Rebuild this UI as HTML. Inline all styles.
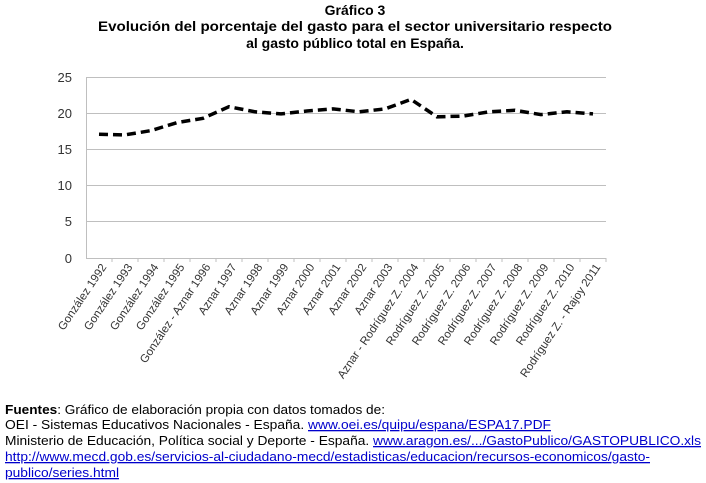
<!DOCTYPE html>
<html><head><meta charset="utf-8"><style>
body{margin:0;background:#fff;width:706px;height:483px;overflow:hidden}
svg{display:block}
</style></head><body>
<svg id="s" width="706" height="483" xmlns="http://www.w3.org/2000/svg" font-family="Liberation Sans, sans-serif">
<g font-weight="bold" font-size="14" text-anchor="middle" fill="#000">
<text x="355" y="15">Gráfico 3</text>
<text x="355" y="31" textLength="514" lengthAdjust="spacingAndGlyphs">Evolución del porcentaje del gasto para el sector universitario respecto</text>
<text x="355" y="48">al gasto público total en España.</text>
</g>
<g stroke="#bfbfbf" stroke-width="1">
<line x1="86" y1="77.5" x2="606" y2="77.5"/>
<line x1="86" y1="113.5" x2="606" y2="113.5"/>
<line x1="86" y1="149.5" x2="606" y2="149.5"/>
<line x1="86" y1="185.5" x2="606" y2="185.5"/>
<line x1="86" y1="221.5" x2="606" y2="221.5"/>
<line x1="86" y1="258.5" x2="606" y2="258.5"/>
<line x1="86.5" y1="77" x2="86.5" y2="258"/>
</g>
<g id="ticks" stroke="#bfbfbf"></g>
<g font-size="13" fill="#333" text-anchor="end">
<text x="72" y="82">25</text><text x="72" y="118">20</text><text x="72" y="154">15</text>
<text x="72" y="190">10</text><text x="72" y="226">5</text><text x="72" y="263">0</text>
</g>
<g id="lab" font-size="11.5" fill="#333" text-anchor="end"></g>
<polyline id="ln" fill="none" stroke="#000" stroke-width="3.5" stroke-dasharray="9,5"/>
<g font-size="13" fill="#000">
<text x="5" y="414" textLength="380" lengthAdjust="spacingAndGlyphs"><tspan font-weight="bold">Fuentes</tspan>: Gráfico de elaboración propia con datos tomados de:</text>
<text x="5" y="429" textLength="546" lengthAdjust="spacingAndGlyphs">OEI - Sistemas Educativos Nacionales - España. <tspan fill="#00c" text-decoration="underline">www.oei.es/quipu/espana/ESPA17.PDF</tspan></text>
<text x="5" y="445" textLength="696" lengthAdjust="spacingAndGlyphs">Ministerio de Educación, Política social y Deporte - España. <tspan fill="#00c" text-decoration="underline">www.aragon.es/.../GastoPublico/GASTOPUBLICO.xls</tspan></text>
<text x="5" y="461" textLength="645" lengthAdjust="spacingAndGlyphs" fill="#00c" text-decoration="underline">http://www.mecd.gob.es/servicios-al-ciudadano-mecd/estadisticas/educacion/recursos-economicos/gasto-</text>
<text x="5" y="477" textLength="114" lengthAdjust="spacingAndGlyphs" fill="#00c" text-decoration="underline">publico/series.html</text>
</g>
<script>
var NS="http://www.w3.org/2000/svg";
var v=[17.1,17.0,17.6,18.7,19.3,20.9,20.2,19.9,20.3,20.6,20.2,20.6,21.9,19.5,19.6,20.2,20.4,19.8,20.2,19.9];
var L=["González 1992","González 1993","González 1994","González 1995","González - Aznar 1996","Aznar 1997","Aznar 1998","Aznar 1999","Aznar 2000","Aznar 2001","Aznar 2002","Aznar 2003","Aznar - Rodríguez Z. 2004","Rodríguez Z. 2005","Rodríguez Z. 2006","Rodríguez Z. 2007","Rodríguez Z. 2008","Rodríguez Z. 2009","Rodríguez Z. 2010","Rodríguez Z. - Rajoy 2011"];
var x0=86,w=520/20,p=[],tg=document.getElementById("ticks"),lg=document.getElementById("lab");
for(var i=0;i<20;i++){var x=x0+w*(i+0.5);p.push(x.toFixed(1)+","+(258-v[i]*7.24).toFixed(1));
var tx=(x0+w*(i+1)).toFixed(1);
var ln=document.createElementNS(NS,"line");ln.setAttribute("x1",tx);ln.setAttribute("x2",tx);ln.setAttribute("y1","258");ln.setAttribute("y2","262");tg.appendChild(ln);
var te=document.createElementNS(NS,"text");te.setAttribute("transform","translate("+(x+8).toFixed(1)+",267) rotate(-56)");te.textContent=L[i];lg.appendChild(te);}
document.getElementById("ln").setAttribute("points",p.join(" "));
</script>
</svg>
</body></html>
